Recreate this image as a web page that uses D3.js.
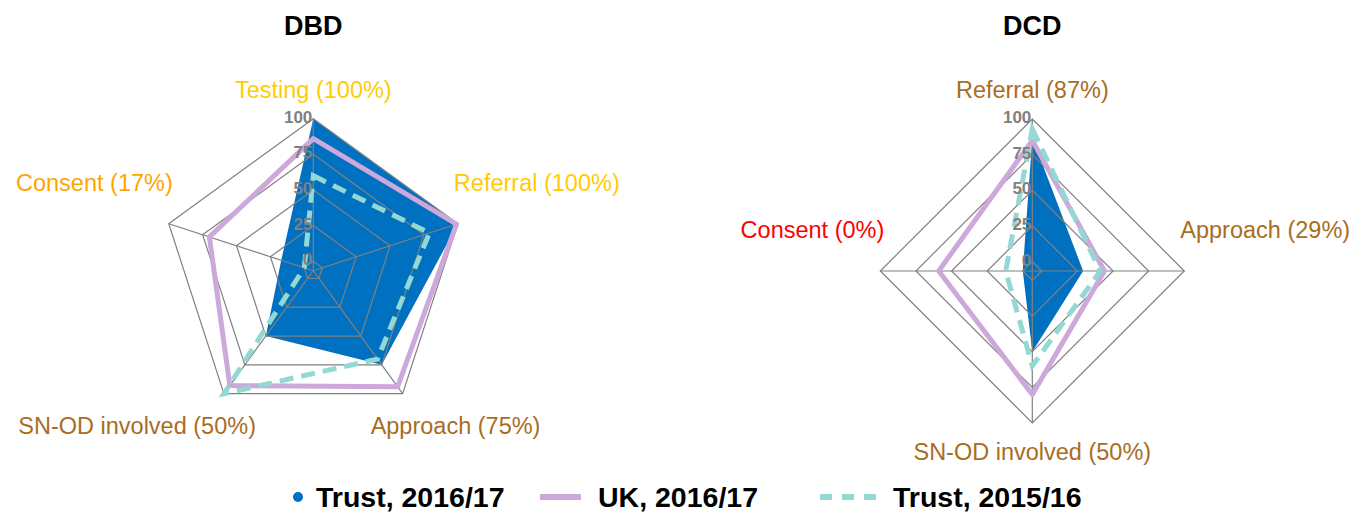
<!DOCTYPE html>
<html>
<head>
<meta charset="utf-8">
<script src="https://cdn.jsdelivr.net/npm/d3@7"></script>
<style>
  body { margin: 0; background: #fff; }
  svg { display: block; font-family: "Liberation Sans", Arial, sans-serif; }
</style>
</head>
<body>
<div id="chart"></div>
<script>
var width = 1359, height = 514;

// Data
var gridTicks = [0, 25, 50, 75, 100]

var dbdAxes = ['Testing', 'Referral', 'Approach', 'SN-OD involved', 'Consent']
var dbdTrust1617 = [100, 100, 75, 50, 17]
var dbdUK1617 = [86, 99, 94, 93, 70]
var dbdTrust1516 = [60, 79, 70, 100, 0]

var dcdAxes = ['Referral', 'Approach', 'SN-OD involved', 'Consent']
var dcdTrust1617 = [87, 29, 50, 0]
var dcdUK1617 = [85, 44, 80, 59]
var dcdTrust1516 = [93, 41, 60, 12]

var legendNames = ['Trust, 2016/17', 'UK, 2016/17', 'Trust, 2015/16']

// label colours (styles, kept apart from the values)
var dbdLabelColors = ['#FFCC00', '#FFCC00', '#A86D1F', '#A86D1F', '#FFA500']
var dcdLabelColors = ['#A86D1F', '#A86D1F', '#A86D1F', '#FF0000']

var blue = '#0070C0', purple = '#CDA8DA', teal = '#92D8D3', gridColor = '#808080'

var svg = d3.select("#chart")
  .append("svg")
  .attr("width", width)
  .attr("height", height);

var rScale = d3.scaleLinear()
  .domain([0, 100])
  .range([9.5, 152])

function radar(cx, cy, title, axes, trust, uk, prev, labelColors) {
  var n = axes.length
  var angle = i => i * 2 * Math.PI / n
  var pt = (i, v) => [Math.sin(angle(i)) * rScale(v), -Math.cos(angle(i)) * rScale(v)]

  var g = svg.append('g')
    .attr('transform', `translate(${cx},${cy})`)

  var line = d3.lineRadial()
    .angle((d, i) => angle(i))
    .radius(d => rScale(d))
    .curve(d3.curveLinearClosed)

  // Trust 2016/17 filled area
  g.append('path')
    .attr('d', line(trust))
    .attr('fill', blue)

  // Render grid rings
  g.selectAll('.ring')
    .data(gridTicks)
    .enter()
    .append('path')
    .attr('class', 'ring')
    .attr('d', t => line(axes.map(() => t)))
    .attr('fill', 'none')
    .attr('stroke', gridColor)
    .attr('stroke-width', 1.2)

  // spokes
  g.selectAll('.spoke')
    .data(axes)
    .enter()
    .append('line')
    .attr('class', 'spoke')
    .attr('x1', 0)
    .attr('y1', 0)
    .attr('x2', (d, i) => pt(i, 100)[0])
    .attr('y2', (d, i) => pt(i, 100)[1])
    .attr('stroke', gridColor)
    .attr('stroke-width', 1.2)

  // UK line
  g.append('path')
    .attr('d', line(uk))
    .attr('fill', 'none')
    .attr('stroke', purple)
    .attr('stroke-width', 5)
    .attr('stroke-linejoin', 'round')

  // Trust 2015/16 dashed line
  g.append('path')
    .attr('d', line(prev))
    .attr('fill', 'none')
    .attr('stroke', teal)
    .attr('stroke-width', 5)
    .attr('stroke-dasharray', '14,8')

  // tick labels
  g.selectAll('.tick-label')
    .data(gridTicks)
    .enter()
    .append('text')
    .attr('class', 'tick-label')
    .attr('x', -1)
    .attr('y', t => -rScale(t) + 4)
    .attr('text-anchor', 'end')
    .style('font-size', '17px')
    .style('font-weight', 'bold')
    .style('fill', gridColor)
    .text(t => t)

  // axis labels
  axes.forEach((a, i) => {
    var v = pt(i, 100)
    var dx = Math.sin(angle(i)), dy = -Math.cos(angle(i))
    var x = v[0], y = v[1], anchor = 'middle'
    if (dy < -0.9) {
      y = v[1] - 21
    } else if (dy > 0.9) {
      y = v[1] + 37
    } else {
      anchor = dx > 0 ? 'start' : 'end'
      x = v[0] - Math.sign(dx) * (dy > 0.5 ? 32 : 4)
      y = dy > 0.5 ? v[1] + 40 : v[1] - 33
    }
    g.append('text')
      .attr('x', x)
      .attr('y', y)
      .attr('text-anchor', anchor)
      .style('font-size', '23.5px')
      .style('fill', labelColors[i])
      .text(`${a} (${trust[i]}%)`)
  })

  // title
  svg.append('text')
    .attr('x', cx)
    .attr('y', 35)
    .attr('text-anchor', 'middle')
    .style('font-size', '27px')
    .style('font-weight', 'bold')
    .text(title)
}

radar(313.3, 270.7, 'DBD', dbdAxes, dbdTrust1617, dbdUK1617, dbdTrust1516, dbdLabelColors)
radar(1032.3, 271, 'DCD', dcdAxes, dcdTrust1617, dcdUK1617, dcdTrust1516, dcdLabelColors)

// Render legend
var legend = svg.append('g')
  .attr('class', 'legend')

legend.append('circle')
  .attr('cx', 298)
  .attr('cy', 497)
  .attr('r', 5)
  .attr('fill', blue)

legend.append('line')
  .attr('x1', 540).attr('x2', 581)
  .attr('y1', 497).attr('y2', 497)
  .attr('stroke', purple)
  .attr('stroke-width', 6)

legend.append('line')
  .attr('x1', 820).attr('x2', 880)
  .attr('y1', 497).attr('y2', 497)
  .attr('stroke', teal)
  .attr('stroke-width', 6)
  .attr('stroke-dasharray', '12,10')

legend.selectAll('.legend-text')
  .data(legendNames)
  .enter()
  .append('text')
  .attr('class', 'legend-text')
  .attr('x', (d, i) => [316, 598, 893][i])
  .attr('y', 507)
  .style('font-size', '28.5px')
  .style('font-weight', 'bold')
  .text(d => d)
</script>
</body>
</html>
